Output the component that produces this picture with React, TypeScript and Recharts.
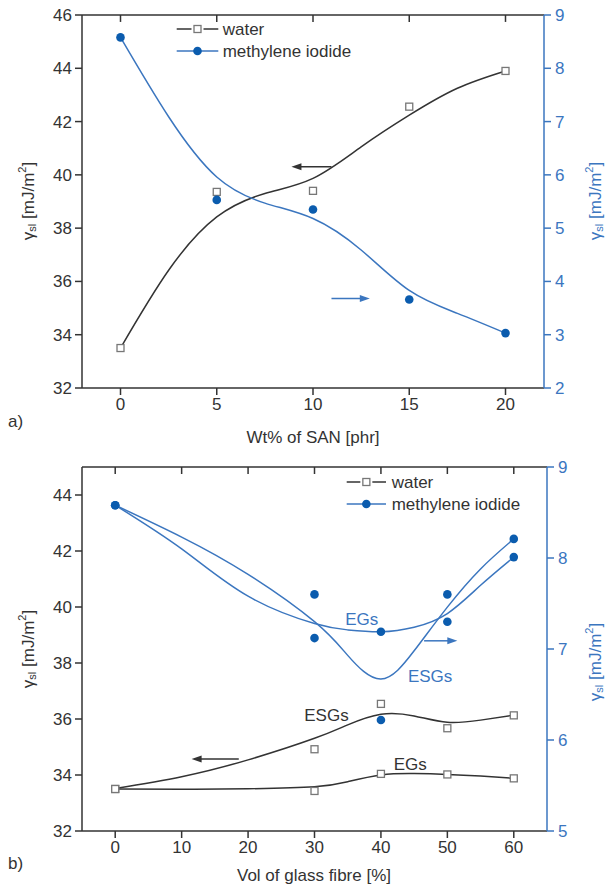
import React from "react";
import {
  ComposedChart,
  Line,
  XAxis,
  YAxis,
  ReferenceLine,
  ReferenceDot,
} from "recharts";

const FONT = '"Liberation Sans", Arial, sans-serif';
const BLACK = "#333333";
const BLUE = "#3b76bf";
const BLUE_DOT = "#0b5cae";

// ---- panel a) : Wt% of SAN ----
const sanPhr = [0, 5, 10, 15, 20];
const waterA = [33.5, 39.36, 39.4, 42.56, 43.9];
const methyleneA = [8.58, 5.53, 5.35, 3.66, 3.03];
// fitted curves
const fitPhr = [0, 2.5, 5, 7.5, 10, 12.5, 15, 17.5, 20];
const waterFitA = [33.5, 36.42, 38.42, 39.3, 39.87, 41.05, 42.24, 43.25, 43.9];
const methyleneFitA = [8.58, 7.09, 5.96, 5.47, 5.18, 4.59, 3.83, 3.4, 3.03];
const domainA = [-2, 22];
const ticksA = [0, 5, 10, 15, 20];
const leftTicksA = [32, 34, 36, 38, 40, 42, 44, 46];
const rightTicksA = [2, 3, 4, 5, 6, 7, 8, 9];
const waterArrowA = [[10.96, 40.3], [8.88, 40.3]];
const methArrowA = [[10.96, 3.68], [12.95, 3.68]];

// ---- panel b) : Vol of glass fibre ----
const fibreVol = [0, 30, 40, 50, 60];
const waterEsgB = [33.5, 34.92, 36.54, 35.67, 36.13];
const waterEgB = [33.5, 33.43, 34.04, 34.02, 33.88];
const methyleneEsgB = [8.58, 7.6, 6.22, 7.6, 8.21];
const methyleneEgB = [8.58, 7.12, 7.19, 7.3, 8.01];
const fitVol = [0, 10, 20, 30, 35, 40, 45, 50, 55, 60];
const waterEsgFitB = [33.52, 33.94, 34.54, 35.31, 35.79, 36.17, 36.11, 35.88, 35.96, 36.14];
const waterEgFitB = [33.5, 33.49, 33.51, 33.58, 33.76, 34.0, 34.05, 34.02, 33.96, 33.88];
const methyleneEsgFitB = [8.58, 8.23, 7.82, 7.3, 6.93, 6.67, 6.98, 7.46, 7.88, 8.21];
const methyleneEgFitB = [8.58, 8.1, 7.58, 7.28, 7.21, 7.19, 7.24, 7.39, 7.7, 8.01];
const domainB = [-5, 65];
const ticksB = [0, 10, 20, 30, 40, 50, 60];
const leftTicksB = [32, 34, 36, 38, 40, 42, 44];
const rightTicksB = [5, 6, 7, 8, 9];
const waterArrowB = [[18.6, 34.57], [11.5, 34.57]];
const methArrowB = [[46.5, 7.09], [51.5, 7.09]];
const blackLabelsB = [
  { x: 31.8, y: 36.14, text: "ESGs" },
  { x: 44.4, y: 34.36, text: "EGs" },
];
const blueLabelsB = [
  { x: 37.1, y: 7.32, text: "EGs" },
  { x: 47.4, y: 6.7, text: "ESGs" },
];

const zip = (xs: number[], ys: number[]) => xs.map((x, i) => ({ x, y: ys[i] }));
const atTop = (xs: number[], top: number) => xs.map((x) => ({ x, y: top }));

const SquareDot = (p: any) =>
  p.cx == null ? <g key={p.key} /> : (
    <rect key={p.key} x={p.cx - 3.5} y={p.cy - 3.5} width={7} height={7} fill="#fff" stroke="#777" strokeWidth={1.3} />
  );
const CircleDot = (p: any) =>
  p.cx == null ? <g key={p.key} /> : <circle key={p.key} cx={p.cx} cy={p.cy} r={4.3} fill={BLUE_DOT} />;

const headLeft = (color: string) => (p: any) =>
  <path d={`M${p.cx},${p.cy} l10,-3.5 l0,7 z`} fill={color} />;
const headRight = (color: string) => (p: any) =>
  <path d={`M${p.cx},${p.cy} l-10,-3.5 l0,7 z`} fill={color} />;
const textShape = (text: string, color: string) => (p: any) => (
  <text x={p.cx} y={p.cy} textAnchor="middle" dominantBaseline="central" fill={color} fontSize={17} fontFamily={FONT}>
    {text}
  </text>
);

function YTitle({ x, cy, color }: { x: number; cy: number; color: string }) {
  return (
    <text
      transform={`rotate(-90 ${x} ${cy})`}
      x={x}
      y={cy}
      textAnchor="middle"
      dominantBaseline="central"
      fill={color}
      fontSize={17}
      fontFamily={FONT}
    >
      γ<tspan fontSize={11} dy={4}>sl</tspan>
      <tspan dy={-4}> [mJ/m</tspan>
      <tspan fontSize={11} dy={-6}>2</tspan>
      <tspan dy={6}>]</tspan>
    </text>
  );
}

function LegendBox({ top, x0, x1, tx }: { top: number; x0: number; x1: number; tx: number }) {
  const mid = (x0 + x1) / 2;
  return (
    <svg style={{ position: "absolute", left: 0, top, overflow: "visible" }} width={611} height={40}>
      <line x1={x0} x2={mid - 6} y1={0} y2={0} stroke={BLACK} strokeWidth={1.5} />
      <line x1={mid + 6} x2={x1} y1={0} y2={0} stroke={BLACK} strokeWidth={1.5} />
      <rect x={mid - 3.5} y={-3.5} width={7} height={7} fill="#fff" stroke="#777" strokeWidth={1.3} />
      <text x={tx} y={0} dominantBaseline="central" fontSize={17} fontFamily={FONT} fill={BLACK}>water</text>
      <line x1={x0} x2={x1} y1={22} y2={22} stroke={BLUE} strokeWidth={1.5} />
      <circle cx={mid} cy={22} r={4.3} fill={BLUE_DOT} />
      <text x={tx} y={22} dominantBaseline="central" fontSize={17} fontFamily={FONT} fill={BLACK}>methylene iodide</text>
    </svg>
  );
}

const tickStyle = { fill: BLACK, fontSize: 17, fontFamily: FONT };
const blueTick = { fill: BLUE, fontSize: 17, fontFamily: FONT };

export default function App() {
  return (
    <div style={{ position: "relative", width: 611, height: 888, background: "#fff", fontFamily: FONT }}>
      <style>{`body{margin:0}`}</style>

      {/* a) */}
      <div style={{ position: "absolute", left: 0, top: 0 }}>
        <ComposedChart width={611} height={452} margin={{ top: 15, right: 0, bottom: 0, left: 0 }}>
          <XAxis
            dataKey="x"
            type="number"
            domain={domainA}
            ticks={ticksA}
            height={64}
            tickSize={7}
            tickMargin={3}
            stroke={BLACK}
            strokeWidth={1.5}
            tick={tickStyle}
            label={() => (
              <text x={313} y={437} textAnchor="middle" dominantBaseline="central" fontSize={17} fontFamily={FONT} fill={BLACK}>
                Wt% of SAN [phr]
              </text>
            )}
          />
          <YAxis
            yAxisId="l"
            type="number"
            domain={[32, 46]}
            ticks={leftTicksA}
            width={82}
            tickSize={7}
            tickMargin={3}
            stroke={BLACK}
            strokeWidth={1.5}
            tick={tickStyle}
            label={() => <YTitle x={28} cy={201} color={BLACK} />}
          />
          <YAxis
            yAxisId="r"
            orientation="right"
            type="number"
            domain={[2, 9]}
            ticks={rightTicksA}
            width={67}
            tickSize={7}
            tickMargin={4}
            stroke={BLUE}
            strokeWidth={1.5}
            tick={blueTick}
            label={() => <YTitle x={595} cy={201} color={BLUE} />}
          />
          {/* top frame and its inward ticks */}
          <Line yAxisId="l" data={atTop(domainA, 46)} dataKey="y" stroke={BLACK} strokeWidth={1.5} dot={false} isAnimationActive={false} />
          {ticksA.map((t) => (
            <ReferenceLine key={"t" + t} yAxisId="l" segment={[{ x: t, y: 46 }, { x: t, y: 45.74 }]} stroke={BLACK} strokeWidth={1.5} />
          ))}
          <Line yAxisId="l" data={zip(fitPhr, waterFitA)} dataKey="y" type="natural" stroke={BLACK} strokeWidth={1.5} dot={false} isAnimationActive={false} />
          <Line yAxisId="r" data={zip(fitPhr, methyleneFitA)} dataKey="y" type="natural" stroke={BLUE} strokeWidth={1.5} dot={false} isAnimationActive={false} />
          <Line yAxisId="l" data={zip(sanPhr, waterA)} dataKey="y" stroke="none" dot={SquareDot} isAnimationActive={false} />
          <Line yAxisId="r" data={zip(sanPhr, methyleneA)} dataKey="y" stroke="none" dot={CircleDot} isAnimationActive={false} />

          <ReferenceLine yAxisId="l" segment={[{ x: waterArrowA[0][0], y: waterArrowA[0][1] }, { x: waterArrowA[1][0] + 0.3, y: waterArrowA[1][1] }]} stroke={BLACK} strokeWidth={1.5} />
          <ReferenceDot yAxisId="l" x={waterArrowA[1][0]} y={waterArrowA[1][1]} shape={headLeft(BLACK)} />
          <ReferenceLine yAxisId="r" segment={[{ x: methArrowA[0][0], y: methArrowA[0][1] }, { x: methArrowA[1][0] - 0.3, y: methArrowA[1][1] }]} stroke={BLUE} strokeWidth={1.5} />
          <ReferenceDot yAxisId="r" x={methArrowA[1][0]} y={methArrowA[1][1]} shape={headRight(BLUE)} />
        </ComposedChart>
      </div>
      <LegendBox top={29} x0={176.7} x1={218.3} tx={222.7} />
      <div style={{ position: "absolute", left: 8, top: 412, fontSize: 17, color: BLACK }}>a)</div>

      {/* b) */}
      <div style={{ position: "absolute", left: 0, top: 440 }}>
        <ComposedChart width={611} height={448} margin={{ top: 27, right: 0, bottom: 0, left: 0 }}>
          <XAxis
            dataKey="x"
            type="number"
            domain={domainB}
            ticks={ticksB}
            height={57}
            tickSize={7}
            tickMargin={3}
            stroke={BLACK}
            strokeWidth={1.5}
            tick={tickStyle}
            label={() => (
              <text x={314} y={435} textAnchor="middle" dominantBaseline="central" fontSize={17} fontFamily={FONT} fill={BLACK}>
                Vol of glass fibre [%]
              </text>
            )}
          />
          <YAxis
            yAxisId="l"
            type="number"
            domain={[32, 45]}
            ticks={leftTicksB}
            width={82}
            tickSize={7}
            tickMargin={3}
            stroke={BLACK}
            strokeWidth={1.5}
            tick={tickStyle}
            label={() => <YTitle x={28} cy={209} color={BLACK} />}
          />
          <YAxis
            yAxisId="r"
            orientation="right"
            type="number"
            domain={[5, 9]}
            ticks={rightTicksB}
            width={64}
            tickSize={7}
            tickMargin={4}
            stroke={BLUE}
            strokeWidth={1.5}
            tick={blueTick}
            label={() => <YTitle x={595} cy={222} color={BLUE} />}
          />
          {/* top frame and its inward ticks */}
          <Line yAxisId="l" data={atTop(domainB, 45)} dataKey="y" stroke={BLACK} strokeWidth={1.5} dot={false} isAnimationActive={false} />
          {ticksB.map((t) => (
            <ReferenceLine key={"t" + t} yAxisId="l" segment={[{ x: t, y: 45 }, { x: t, y: 44.75 }]} stroke={BLACK} strokeWidth={1.5} />
          ))}
          <Line yAxisId="l" data={zip(fitVol, waterEsgFitB)} dataKey="y" type="natural" stroke={BLACK} strokeWidth={1.5} dot={false} isAnimationActive={false} />
          <Line yAxisId="l" data={zip(fitVol, waterEgFitB)} dataKey="y" type="natural" stroke={BLACK} strokeWidth={1.5} dot={false} isAnimationActive={false} />
          <Line yAxisId="r" data={zip(fitVol, methyleneEsgFitB)} dataKey="y" type="natural" stroke={BLUE} strokeWidth={1.5} dot={false} isAnimationActive={false} />
          <Line yAxisId="r" data={zip(fitVol, methyleneEgFitB)} dataKey="y" type="natural" stroke={BLUE} strokeWidth={1.5} dot={false} isAnimationActive={false} />
          <Line yAxisId="l" data={zip(fibreVol, waterEsgB)} dataKey="y" stroke="none" dot={SquareDot} isAnimationActive={false} />
          <Line yAxisId="l" data={zip(fibreVol, waterEgB)} dataKey="y" stroke="none" dot={SquareDot} isAnimationActive={false} />
          <Line yAxisId="r" data={zip(fibreVol, methyleneEsgB)} dataKey="y" stroke="none" dot={CircleDot} isAnimationActive={false} />
          <Line yAxisId="r" data={zip(fibreVol, methyleneEgB)} dataKey="y" stroke="none" dot={CircleDot} isAnimationActive={false} />

          <ReferenceLine yAxisId="l" segment={[{ x: waterArrowB[0][0], y: waterArrowB[0][1] }, { x: waterArrowB[1][0] + 1, y: waterArrowB[1][1] }]} stroke={BLACK} strokeWidth={1.5} />
          <ReferenceDot yAxisId="l" x={waterArrowB[1][0]} y={waterArrowB[1][1]} shape={headLeft(BLACK)} />
          <ReferenceLine yAxisId="r" segment={[{ x: methArrowB[0][0], y: methArrowB[0][1] }, { x: methArrowB[1][0] - 1, y: methArrowB[1][1] }]} stroke={BLUE} strokeWidth={1.5} />
          <ReferenceDot yAxisId="r" x={methArrowB[1][0]} y={methArrowB[1][1]} shape={headRight(BLUE)} />

          {blackLabelsB.map((l) => (
            <ReferenceDot key={"k" + l.text} yAxisId="l" x={l.x} y={l.y} shape={textShape(l.text, BLACK)} />
          ))}
          {blueLabelsB.map((l) => (
            <ReferenceDot key={"b" + l.text} yAxisId="r" x={l.x} y={l.y} shape={textShape(l.text, BLUE)} />
          ))}
        </ComposedChart>
      </div>
      <LegendBox top={482} x0={346.7} x1={386} tx={391.7} />
      <div style={{ position: "absolute", left: 8, top: 854, fontSize: 17, color: BLACK }}>b)</div>
    </div>
  );
}
